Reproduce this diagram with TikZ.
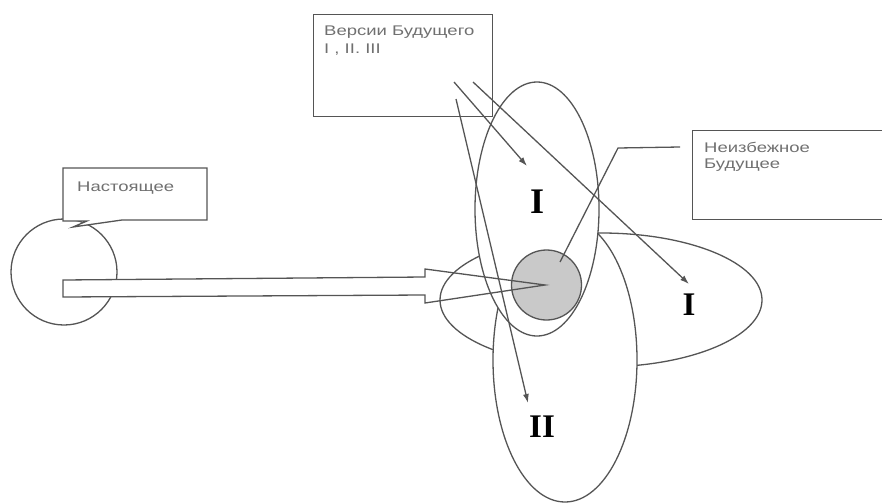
\documentclass[tikz,border=0pt]{standalone}
\usepackage{fontspec}
\setmainfont{Liberation Serif}
\newfontfamily\labfont[FakeStretch=1.32]{Liberation Sans}
\usetikzlibrary{arrows.meta,shapes.geometric}
\definecolor{lncol}{HTML}{555555}
\definecolor{txcol}{HTML}{707070}
\definecolor{diskcol}{HTML}{C9C9C9}
\tikzset{
  lnst/.style={draw=lncol, line width=1.3pt},
  lab/.style={font=\labfont\fontsize{14}{17}\selectfont, text=txcol, inner sep=0pt, anchor=base west},
  numbig/.style={font=\bfseries\fontsize{36}{40}\selectfont, inner sep=0pt, anchor=base},
  numsmall/.style={font=\bfseries\fontsize{33}{36}\selectfont, inner sep=0pt, anchor=base},
  thinarrow/.style={lnst, -{Latex[length=9pt,width=6pt]}},
  ell/.style={ellipse, lnst, fill=white, inner sep=0pt},
}
\begin{document}
\begin{tikzpicture}[x=1pt,y=-1pt]
\useasboundingbox (0,0) rectangle (882,503);

% present: circle and callout
\node[circle, lnst, minimum size=106pt, inner sep=0pt] (now) at (64,272) {};
\draw[lnst, fill=white] (207,220) -- (122,220) -- (73,227) -- (87,221) -- (63,221)
   -- (63,168) -- (207,168) -- cycle;
\node[lab] (nowtxt) at (77,191) {Настоящее};

% white fill of the big arrow (hides the circle behind the shaft)
\fill[white] (63,280) -- (425,277) -- (425,269) -- (545,285) -- (425,303) -- (425,295) -- (63,297) -- cycle;

% versions box
\node[rectangle, lnst, fill=white, minimum width=179pt, minimum height=102pt, inner sep=0pt, anchor=north west] (vers) at (313,14) {};
\node[lab] (verst1) at (324,36) {Версии Будущего};
\node[lab] (verst2) at (324,53) {I , II. III};

% inevitable future box
\node[rectangle, lnst, minimum width=210pt, minimum height=89pt, inner sep=0pt, anchor=north west] (inev) at (692,130) {};
\node[lab] (inevt1) at (704,152) {Неизбежное};
\node[lab] (inevt2) at (704,168) {Будущее};

% ellipses
\node[ell, minimum width=322pt, minimum height=134pt] (ehor) at (601,300) {};
\node[ell, minimum width=144pt, minimum height=284pt] (elow) at (565,360) {};
\node[ell, minimum width=124pt, minimum height=254pt] (eup) at (537,209) {};

% inevitable future disk
\node[circle, lnst, fill=diskcol, minimum size=70pt, inner sep=0pt] (disk) at (546.5,285) {};

% labels
\node[numbig] (lab1) at (537,213) {I};
\node[numsmall] (lab2) at (689,315) {I};
\node[numsmall] (lab3) at (542,437) {II};

% big arrow outline
\draw[lnst, line join=miter] (63,280) -- (425,277) -- (425,269) -- (545,285) -- (425,303) -- (425,295) -- (63,297) -- cycle;

% callout line of the inevitable future
\coordinate (inevp) at (680,147);
\coordinate (inevk) at (618,148);
\coordinate (diskp) at (560,262);
\draw[lnst] (inevp) -- (inevk) -- (diskp);

% arrows from versions box
\coordinate (s1) at (454,82);
\coordinate (s2) at (473,82);
\coordinate (s3) at (456,99);
\coordinate (t1) at (527,166);
\coordinate (t2) at (689,284);
\coordinate (t3) at (528,403);
\draw[thinarrow] (s1) -- (t1);
\draw[thinarrow] (s2) -- (t2);
\draw[thinarrow] (s3) -- (t3);
\end{tikzpicture}
\end{document}
